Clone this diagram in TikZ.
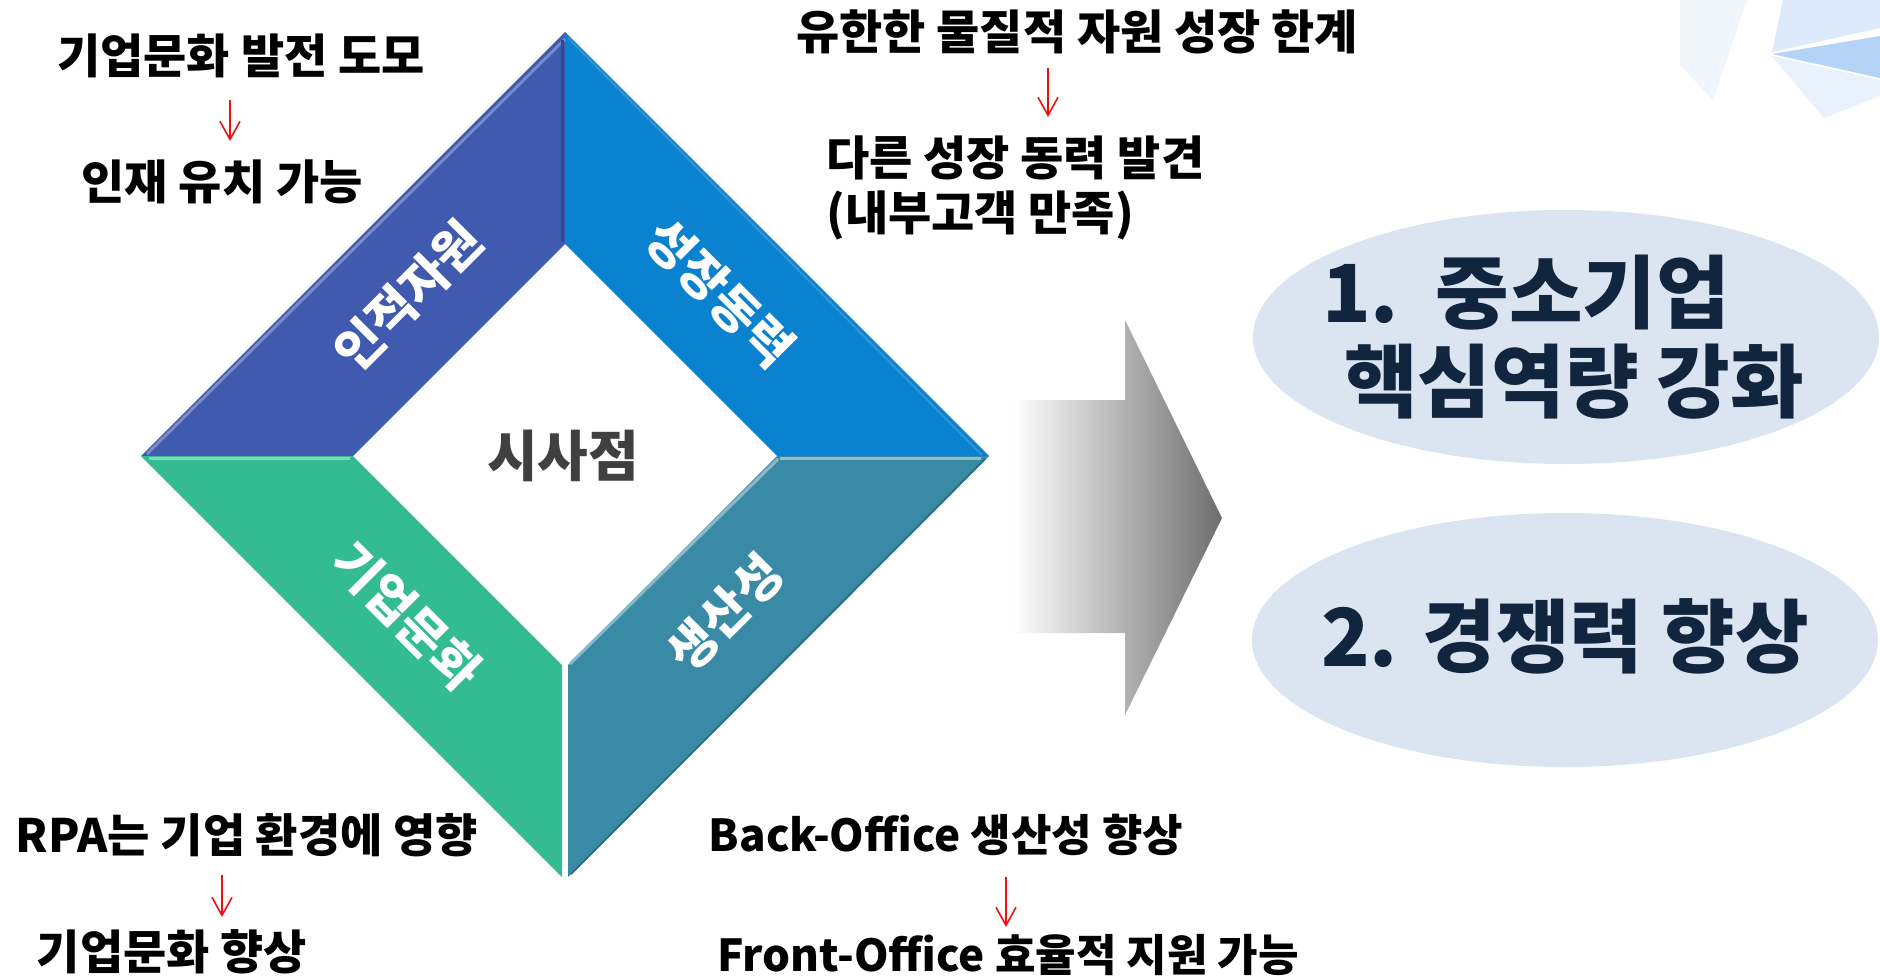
\documentclass[tikz,border=0pt]{standalone}
\usepackage{fontspec}
\setmainfont{Noto Sans CJK KR}
\usetikzlibrary{arrows.meta,shapes.geometric,calc}
\definecolor{cTL}{HTML}{3F5AAE}
\definecolor{cTR}{HTML}{0A82CF}
\definecolor{cBL}{HTML}{33BB92}
\definecolor{cBR}{HTML}{398AA5}
\definecolor{ellfill}{HTML}{DBE4F1}
\definecolor{navy}{HTML}{12253E}
\definecolor{centergray}{HTML}{404040}
\definecolor{arrred}{HTML}{F01010}
\definecolor{decoA}{HTML}{F1F6FD}
\definecolor{decoB}{HTML}{DCEAFB}
\definecolor{decoC}{HTML}{B4D3F6}
\definecolor{decoD}{HTML}{E9F2FC}
\tikzset{
  txt/.style={inner sep=0pt, font=\bfseries\fontsize{47}{55}\selectfont, text=black},
  txtlat/.style={inner sep=0pt, font=\bfseries\fontsize{44}{53}\selectfont, text=black},
  bandlabel/.style={inner sep=0pt, font=\bfseries\fontsize{50}{58}\selectfont, text=white},
  bigtxt/.style={inner sep=0pt, font=\bfseries\fontsize{80}{89}\selectfont, text=navy},
  redarrow/.style={draw=arrred, line width=1.6pt, -{Straight Barb[length=18pt,width=20pt,line width=1.6pt]}},
  ell/.style={ellipse, fill=ellfill, inner sep=0pt, minimum width=626pt, minimum height=254pt}
}
\begin{document}
\begin{tikzpicture}[x=1pt,y=-1pt]
\useasboundingbox (0,0) rectangle (1880,977);
\fill[white] (0,0) rectangle (1880,977);

% background decoration (top right)
\fill[decoA] (1680,0) -- (1747,0) -- (1713,100) -- (1680,65) -- cycle;
\fill[decoB] (1783,0) -- (1880,0) -- (1880,28) -- (1772,52) -- cycle;
\fill[decoC] (1772,54) -- (1880,36) -- (1880,78) -- cycle;
\fill[decoD] (1772,56) -- (1880,80) -- (1880,96) -- (1824,118) -- cycle;

% diamond bands
\coordinate (OT) at (565,32);
\coordinate (OL) at (141,456);
\coordinate (OR) at (989,456);
\coordinate (OB) at (565,880);
\coordinate (IT) at (565,244);
\coordinate (IL) at (353,456);
\coordinate (IR) at (777,456);
\coordinate (IB) at (565,668);

\fill[cTL] (OL) -- (OT) -- (IT) -- (IL) -- cycle;
\fill[cTR] (OT) -- (OR) -- (IR) -- (IT) -- cycle;
\fill[cBL] (OL) -- (IL) -- (562,665) -- (562,877) -- cycle;
\fill[cBR] (568,877) -- (568,665) -- (IR) -- (OR) -- cycle;

% bevel highlights
\draw[line width=3pt, color=cTL!70!white] ($(OL)+(6,-2)$) -- ($(OT)+(0,7)$);
\draw[line width=3pt, color=cTL!80!black] (562,40) -- (562,242);
\draw[line width=2pt, color=cTR!85!white] ($(OT)+(3,6)$) -- ($(OR)+(-7,-1)$);
\draw[line width=3pt, color=cBL!60!white] ($(OL)+(8,2)$) -- ($(IL)+(-3,2)$);
\draw[line width=3pt, color=cBR!55!white] ($(IR)+(3,2)$) -- ($(OR)+(-8,2)$);
\draw[line width=3pt, color=cBR!60!white] (570,664) -- ($(IR)+(1,3)$);
\draw[line width=2pt, color=cBR!80!black] (571,874) -- ($(OR)+(-4,3)$);

% band labels
\node[bandlabel, rotate=45] (lblTL) at (408,296) {인적자원};
\node[bandlabel, rotate=-45] (lblTR) at (720,293) {성장동력};
\node[bandlabel, rotate=-45] (lblBL) at (407,616) {기업문화};
\node[bandlabel, rotate=45] (lblBR) at (725,613) {생산성};

\node[inner sep=0pt, font=\bfseries\fontsize{55}{62}\selectfont, text=centergray] (center) at (563,456) {시사점};

% big gradient arrow
\shade[left color=white, right color=black!57!white]
  (1013,400) -- (1125,400) -- (1125,320) -- (1222,518) -- (1125,715) -- (1125,633) -- (1013,633) -- cycle;

% ellipses
\node[ell] (e1) at (1566,337) {};
\node[ell] (e2) at (1565,640) {};
\node[bigtxt, anchor=west, align=left] (e1txt) at (1322,337) {1.\ \ 중소기업\\\hspace{22pt}핵심역량 강화};
\node[bigtxt] (e2txt) at (1565,636) {2. 경쟁력 향상};

% text blocks
\node[txt] (t1) at (241,56) {기업문화 발전 도모};
\node[txt] (t2) at (222,182) {인재 유치 가능};
\node[txt] (t3) at (1077,32) {유한한 물질적 자원 성장 한계};
\node[txt, anchor=west, align=left] (t4) at (826,188) {다른 성장 동력 발견\\(내부고객 만족)};
\node[inner sep=0pt, font=\bfseries\fontsize{46}{53}\selectfont] (t5) at (247,835) {RPA는 기업 환경에 영향};
\node[txt] (t6) at (172,952) {기업문화 향상};
\node[txtlat] (t7) at (946,835) {Back-Office 생산성 향상};
\node[txtlat] (t8) at (1008,955) {Front-Office 효율적 지원 가능};

% red arrows
\coordinate (a1s) at (230,100); \coordinate (a1e) at (230,141);
\coordinate (a2s) at (1048,68); \coordinate (a2e) at (1048,117);
\coordinate (a3s) at (222,875); \coordinate (a3e) at (222,917);
\coordinate (a4s) at (1006,877); \coordinate (a4e) at (1006,927);
\draw[redarrow] (a1s) -- (a1e);
\draw[redarrow] (a2s) -- (a2e);
\draw[redarrow] (a3s) -- (a3e);
\draw[redarrow] (a4s) -- (a4e);
\end{tikzpicture}
\end{document}
